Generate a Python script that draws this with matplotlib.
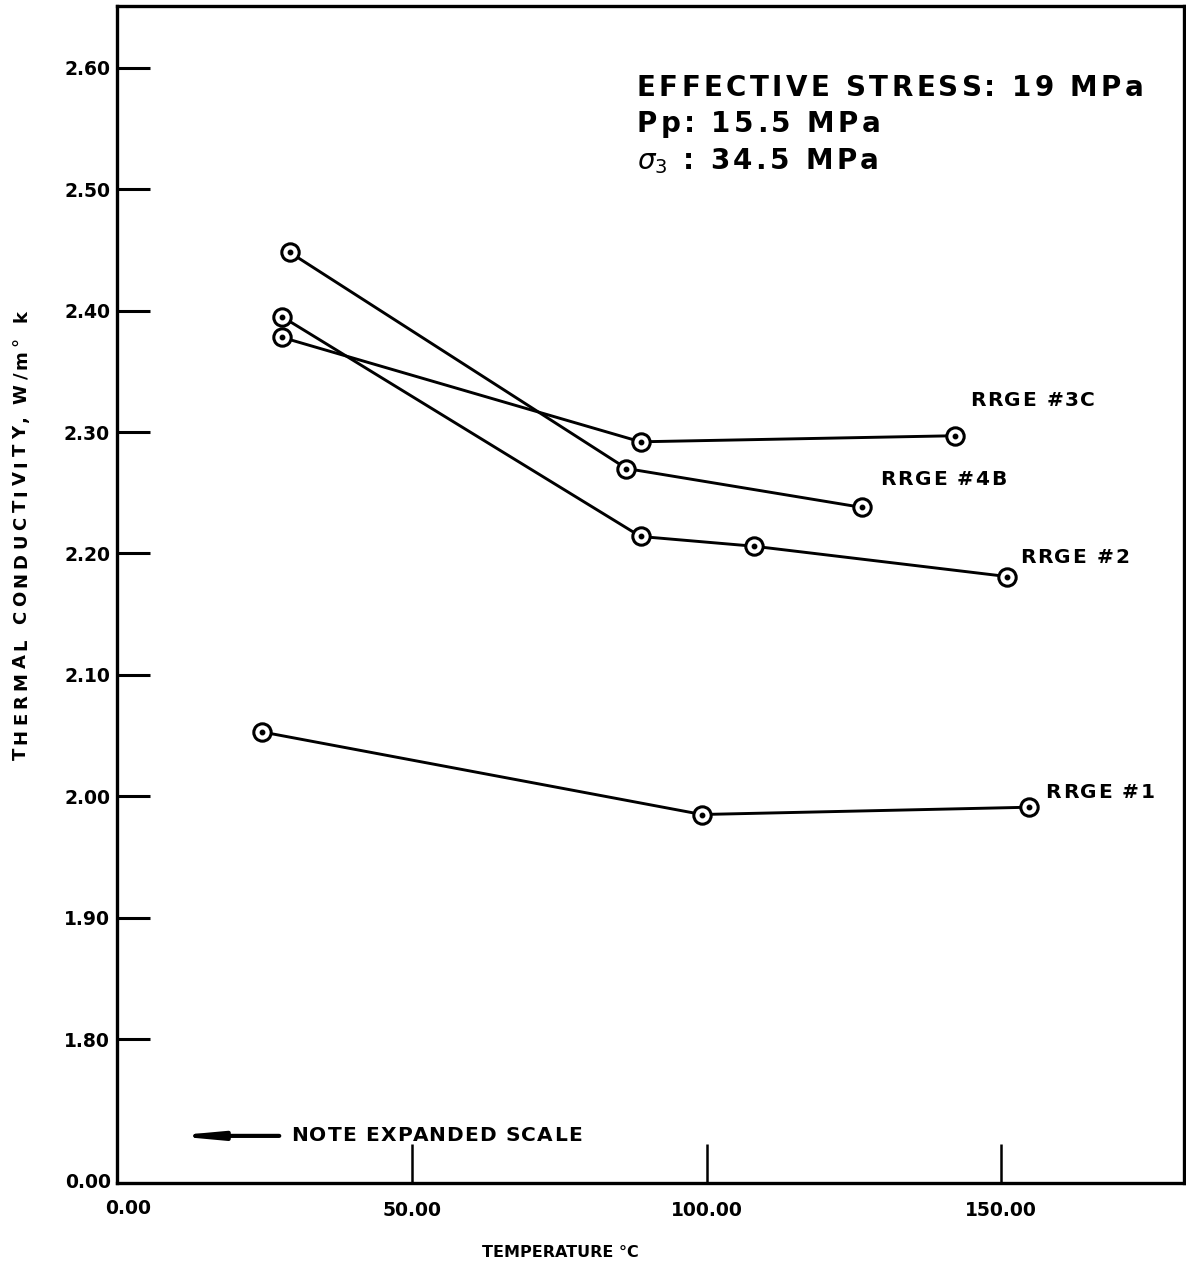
import numpy as np
import matplotlib
matplotlib.use("Agg")
import matplotlib.pyplot as plt
from matplotlib.transforms import offset_copy

plt.rcParams["font.family"] = ["DejaVu Sans"]
plt.rcParams["mathtext.fontset"] = "dejavusans"

# --- data (temperature in deg C, conductivity in W/m K) ---
t_3c = [28.0, 88.8, 142.2]
k_3c = [2.378, 2.292, 2.297]
t_4b = [29.3, 86.4, 126.3]
k_4b = [2.448, 2.270, 2.238]
t_2 = [28.0, 88.8, 108.0, 151.0]
k_2 = [2.395, 2.214, 2.206, 2.181]
t_1 = [24.6, 99.2, 154.7]
k_1 = [2.053, 1.985, 1.991]

series_names = ["RRGE #3C", "RRGE #4B", "RRGE #2", "RRGE #1"]

x_ticks = [50, 100, 150]
x_tick_labels = ["50.00", "100.00", "150.00"]
y_ticks = [1.8, 1.9, 2.0, 2.1, 2.2, 2.3, 2.4, 2.5, 2.6]
y_tick_labels = ["1.80", "1.90", "2.00", "2.10", "2.20", "2.30", "2.40", "2.50", "2.60"]

ZERO_POS = 1.6815   # where the broken axis puts 0.00


def spaced_text(ax, x, y, tokens, track, transform, align="left", rotation=0, **kw):
    """Draw text token by token with extra letter spacing (in pixels)."""
    fig = ax.figure
    r = fig.canvas.get_renderer()

    def width(s):
        t = fig.text(0, 0, s + "|", **kw)
        w = t.get_window_extent(r).width
        t.remove()
        return w

    bar_w = width("")
    adv = [width("".join(tokens[:i])) - bar_w for i in range(len(tokens) + 1)]
    total = adv[-1] + track * (len(tokens) - 1)
    start = -total / 2 if align == "center" else 0.0
    ang = np.deg2rad(rotation)
    for i, tok in enumerate(tokens):
        d = start + adv[i] + track * i
        tr = offset_copy(transform, fig=fig, x=d * np.cos(ang), y=d * np.sin(ang), units="dots")
        fig.text(x, y, tok, transform=tr, ha="left", rotation=rotation,
                 rotation_mode="anchor", **kw)


fig = plt.figure(figsize=(11.86, 12.69), dpi=100)
ax = fig.add_axes([0.0987, 0.0678, 0.8997, 0.9275])
ax.set_xlim(0, 181)
ax.set_ylim(ZERO_POS, 2.651)

for t, k in [(t_3c, k_3c), (t_4b, k_4b), (t_2, k_2), (t_1, k_1)]:
    ax.plot(t, k, color="black", lw=2.1, zorder=2,
            marker="o", ms=12.5, mfc="white", mec="black", mew=2.2)
    ax.plot(t, k, ls="none", marker="o", ms=3.2, color="black", zorder=3)

# series labels
lab_pos = [(144.7, 2.326), (129.5, 2.261), (153.2, 2.197), (157.5, 2.003)]
for name, (lx, ly) in zip(series_names, lab_pos):
    spaced_text(ax, lx, ly, list(name), 1.6, ax.transData,
                fontsize=14.5, fontweight="bold", va="center")

# conditions block
blk = dict(fontsize=20, fontweight="bold", va="baseline")
spaced_text(ax, 0.487, 0.9235, list("EFFECTIVE STRESS: 19 MPa"), 3.4, ax.transAxes, **blk)
spaced_text(ax, 0.487, 0.893, list("Pp: 15.5 MPa"), 3.4, ax.transAxes, **blk)
spaced_text(ax, 0.487, 0.8615, [r"$\sigma_3$", " ", ":"] + list(" 34.5 MPa"), 3.4,
            ax.transAxes, **blk)

# expanded scale note
ax.annotate("", xy=(0.052, 0.040), xytext=(0.152, 0.040), xycoords="axes fraction",
            arrowprops=dict(arrowstyle="-|>,head_length=2.4,head_width=0.22",
                            color="black", lw=3, shrinkA=0, shrinkB=0))
spaced_text(ax, 0.163, 0.040, list("NOTE EXPANDED SCALE"), 1.2, ax.transAxes,
            fontsize=14.5, fontweight="bold", va="center")

ax.set_xticks(x_ticks)
ax.set_xticklabels(x_tick_labels, fontsize=13.5, fontweight="bold")
ax.set_yticks(y_ticks)
ax.set_yticklabels(y_tick_labels, fontsize=13.5, fontweight="bold")
ax.tick_params(axis="y", direction="in", length=24, width=2.2, pad=5)
ax.tick_params(axis="x", direction="in", length=28, width=1.8, pad=13)

# 0.00 labels at the origin of the broken axis
ax.text(-0.006, 0.0, "0.00", transform=ax.transAxes, fontsize=13.5, fontweight="bold",
        ha="right", va="center")
ax.text(0.010, -0.022, "0.00", transform=ax.transAxes, fontsize=13.5, fontweight="bold",
        ha="center", va="center")

for s in ax.spines.values():
    s.set_linewidth(2.4)

ax.set_xlabel("TEMPERATURE °C", fontsize=11.5, fontweight="bold")
ax.xaxis.set_label_coords(0.415, -0.053)

# y label, spread out like the original lettering
spaced_text(ax, 21 / 1186, 1 - 535 / 1269, list("THERMAL CONDUCTIVITY, W/m° k"), 4.2,
            fig.transFigure, align="center", rotation=90,
            fontsize=13, fontweight="bold", va="center")

fig.savefig("out.png", dpi=100, facecolor="white")
